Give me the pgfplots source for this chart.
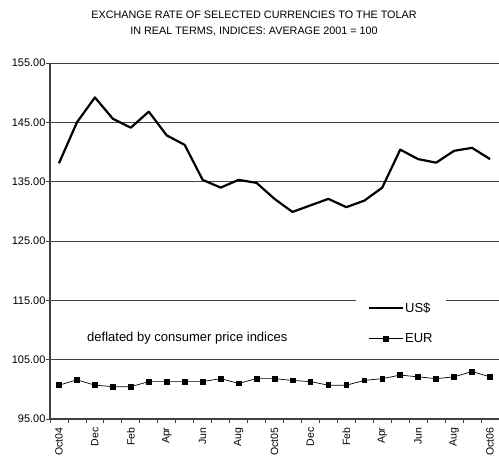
\documentclass[border=0pt]{standalone}
\usepackage{pgfplots}
\pgfplotsset{compat=1.18}
\usepackage{fontspec}
\setmainfont{Liberation Sans}
\begin{document}
\begin{tikzpicture}[x=1pt,y=1pt]
\useasboundingbox (0,0) rectangle (499,457);
\node[align=center, font=\fontsize{10.8}{16}\selectfont] at (254,434)
  {EXCHANGE RATE OF SELECTED CURRENCIES TO THE TOLAR\\IN REAL TERMS, INDICES: AVERAGE 2001 = 100};
\begin{axis}[
  at={(50pt,38pt)}, anchor=south west,
  scale only axis, width=449pt, height=356pt,
  xmin=-0.5, xmax=24.5, ymin=95, ymax=155,
  axis x line*=bottom, axis y line*=left,
  axis line style={-, line width=1.1pt, black!75},
  ytick={95,105,...,155},
  yticklabel style={/pgf/number format/.cd, fixed, fixed zerofill, precision=2, assume math mode=true, /tikz/.cd, font=\fontsize{11}{12}\selectfont, xshift=3pt},
  xticklabel style={font=\fontsize{10.5}{12}\selectfont},
  ymajorgrids, grid style={black!75, line width=0.8pt},
  tick align=outside, major tick length=4pt,
  tick style={black!75, line width=0.8pt},
  xtick={-0.5,0.5,...,24.5}, xticklabels={},
  extra x ticks={0,2,...,24},
  extra x tick labels={Oct04,Dec,Feb,Apr,Jun,Aug,Oct05,Dec,Feb,Apr,Jun,Aug,Oct06},
  extra x tick style={major tick length=0pt, xticklabel style={rotate=90, anchor=east, xshift=-5pt}},
  legend style={at={(0.681,0.342)}, anchor=north west, draw=none, fill=white,
     font=\fontsize{13}{14}\selectfont, row sep=16pt, inner xsep=12pt, inner ysep=3pt,
     nodes={inner xsep=1pt}},
  legend cell align=left,
  legend image code/.code={\draw[mark repeat=2,mark phase=2,#1] plot coordinates {(0pt,0pt) (17pt,0pt) (34pt,0pt)};},
]
\addplot[black, line width=2.2pt, line join=round, mark=none] coordinates {
(0,138.1) (1,145.0) (2,149.2) (3,145.6) (4,144.1) (5,146.8) (6,142.8) (7,141.2) (8,135.3) (9,134.0)
(10,135.3) (11,134.8) (12,132.1) (13,129.9) (14,131.0) (15,132.1) (16,130.7) (17,131.8) (18,134.0)
(19,140.4) (20,138.8) (21,138.2) (22,140.2) (23,140.7) (24,138.8)};
\addlegendentry{US\$}
\addplot[black, line width=0.7pt, mark=square*, mark size=2.4pt] coordinates {
(0,100.7) (1,101.6) (2,100.7) (3,100.45) (4,100.45) (5,101.3) (6,101.3) (7,101.3) (8,101.3) (9,101.8)
(10,101.0) (11,101.8) (12,101.8) (13,101.5) (14,101.3) (15,100.7) (16,100.7) (17,101.5) (18,101.8)
(19,102.4) (20,102.1) (21,101.8) (22,102.1) (23,103.0) (24,102.1)};
\addlegendentry{EUR}
\node[anchor=west, font=\fontsize{13}{14}\selectfont] at (rel axis cs:0.075,0.228) {deflated by consumer price indices};
\end{axis}
\end{tikzpicture}
\end{document}
